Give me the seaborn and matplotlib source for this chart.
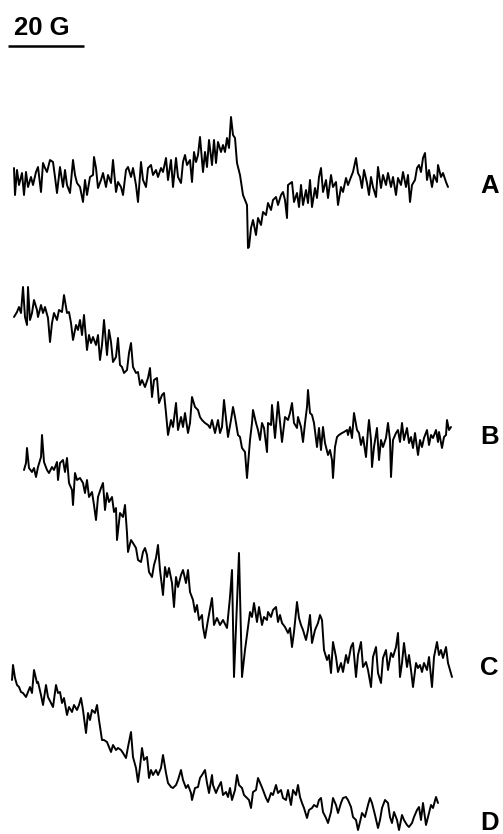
import matplotlib
matplotlib.use("Agg")
import matplotlib.pyplot as plt
import seaborn as sns
import numpy as np
import pandas as pd

sns.set_theme(style="white")
plt.rcParams['font.family'] = ['Liberation Sans', 'DejaVu Sans']
plt.rcParams['text.color'] = 'black'

# Traces: (field position, signal) pairs; signal is plotted downward-positive
trace_A = [(14,168),(15,195),(17,170),(19,185),(22,173),(24,195),(26,172),(28,187),(31,177),(33,185),
           (36,172),(38,167),(41,192),(43,163),(45,168),(47,172),(50,160),(53,162),(55,177),(57,193),
           (60,167),(63,187),(65,170),(67,185),(70,193),(73,160),(75,175),(77,183),(80,187),(83,202),
           (85,180),(87,195),(90,177),(93,175),(94,157),(96,168),(98,188),(101,180),(103,173),(106,187),
           (108,175),(111,183),(113,160),(116,192),(118,182),(121,187),(123,195),(126,170),(128,167),
           (131,177),(133,168),(136,185),(138,202),(141,162),(143,180),(146,187),(148,168),(151,165),
           (153,175),(156,170),(158,177),(161,168),(163,172),(166,158),(168,180),(171,160),(173,187),
           (176,158),(178,177),(181,183),(183,162),(185,155),(187,165),(190,160),(192,182),(194,152),
           (196,162),(198,155),(200,137),(203,172),(205,152),(207,167),(209,140),(212,165),(214,140),
           (216,163),(218,142),(221,152),(223,145),(225,152),(227,138),(229,148),(231,117),(233,135),
           (235,138),(237,163),(240,175),(243,195),(247,205),(248,248),(249,247),(251,228),(253,220),
           (256,235),(258,218),(261,225),(263,212),(266,215),(268,203),(271,210),(273,200),(276,197),
           (278,205),(281,195),(283,192),(285,200),(287,218),(288,185),(292,182),(294,202),(297,193),
           (299,207),(301,185),(303,205),(306,190),(308,203),(310,180),(312,207),(315,188),(317,198),
           (319,177),(321,168),(323,192),(326,180),(328,198),(331,175),(333,187),(336,182),(338,205),
           (341,187),(343,192),(346,178),(348,185),(351,177),(353,172),(356,158),(358,173),(360,177),
           (362,188),(364,170),(367,183),(369,195),(371,177),(373,187),(376,197),(378,167),(381,188),
           (383,175),(386,185),(388,173),(391,187),(393,177),(396,195),(398,178),(401,185),(403,172),
           (406,187),(408,175),(410,202),(412,185),(415,180),(417,168),(419,165),(421,172),(423,158),
           (425,153),(427,180),(429,170),(432,187),(434,175),(437,182),(438,165),(441,177),(443,173),
           (446,182),(448,187)]

trace_B = [(14,317),(17,312),(19,307),(21,313),(23,287),(25,317),(27,325),(28,287),(30,320),(32,313),
           (34,300),(37,310),(38,317),(41,305),(43,313),(45,307),(48,318),(50,342),(52,323),(54,313),
           (57,320),(59,310),(62,312),(64,295),(67,313),(69,312),(71,323),(73,340),(76,325),(78,330),
           (80,320),(82,335),(84,315),(87,350),(89,335),(91,343),(93,337),(96,345),(98,335),(100,360),
           (102,345),(104,320),(107,355),(109,330),(111,342),(113,362),(116,357),(118,338),(120,365),
           (122,367),(124,373),(127,370),(129,353),(131,343),(133,367),(136,373),(138,372),(140,385),
           (142,380),(145,387),(148,378),(150,368),(152,397),(154,380),(157,378),(159,403),(162,395),
           (164,393),(166,413),(168,435),(171,420),(173,427),(176,403),(178,430),(181,417),(183,427),
           (185,413),(188,433),(190,423),(192,397),(195,407),(198,410),(200,417),(202,420),(205,423),
           (208,425),(210,428),(212,420),(215,433),(218,420),(220,433),(222,427),(224,400),(227,427),
           (228,437),(231,420),(233,407),(235,417),(238,435),(240,437),(242,448),(245,452),(247,478),
           (250,440),(252,423),(253,410),(256,423),(258,430),(260,440),(262,423),(264,428),(267,452),
           (268,423),(271,425),(272,405),(275,438),(278,402),(280,422),(282,442),(285,417),(288,420),
           (290,413),(292,403),(294,423),(297,428),(298,417),(301,427),(303,442),(305,423),(307,407),
           (308,390),(310,413),(312,415),(314,423),(317,447),(319,428),(321,450),(323,427),(325,443),
           (328,455),(330,450),(332,460),(333,478),(335,447),(337,437),(339,435),(342,433),(344,432),
           (347,430),(348,435),(350,427),(352,438),(354,413),(357,430),(359,433),(361,445),(363,437),
           (366,457),(368,430),(369,420),(371,440),(372,467),(374,447),(377,428),(379,460),(381,440),
           (383,447),(386,438),(388,423),(390,440),(391,477),(393,440),(396,433),(398,430),(400,442),
           (402,423),(404,440),(407,428),(409,443),(411,437),(413,448),(415,433),(418,455),(420,440),
           (422,447),(424,438),(427,430),(429,445),(431,435),(433,438),(436,430),(438,442),(439,432),
           (442,448),(444,437),(446,435),(447,420),(449,430),(451,427)]

trace_C = [(24,470),(26,463),(27,448),(29,468),(32,472),(34,468),(36,477),(38,467),(41,457),(42,435),
           (44,462),(47,470),(49,473),(52,467),(54,470),(57,462),(58,480),(60,463),(63,460),(65,472),
           (67,458),(69,483),(72,490),(73,505),(75,473),(77,480),(80,478),(83,483),(85,493),(87,480),
           (89,497),(92,492),(94,505),(96,520),(98,497),(101,488),(103,483),(105,510),(107,493),(109,502),
           (112,497),(114,512),(116,508),(117,540),(120,513),(123,517),(125,505),(127,533),(128,552),
           (131,540),(133,543),(136,548),(138,560),(141,562),(143,552),(145,548),(147,555),(149,572),
           (152,577),(154,565),(156,558),(158,545),(160,570),(163,595),(165,567),(167,577),(169,568),
           (172,583),(174,607),(176,577),(178,587),(181,575),(183,570),(186,583),(188,570),(190,592),
           (193,600),(195,612),(197,605),(199,620),(202,615),(203,627),(205,638),(208,620),(212,598),
           (214,625),(217,618),(220,625),(223,620),(227,628),(230,597),(232,570),(234,677),(239,553),
           (242,677),(245,650),(248,627),(250,612),(252,617),(254,603),(257,622),(259,607),(262,625),
           (264,617),(267,620),(268,612),(271,617),(273,610),(276,607),(278,622),(280,615),(282,623),
           (285,627),(288,633),(290,628),(292,647),(294,632),(297,602),(299,618),(301,625),(303,630),
           (306,640),(308,630),(310,615),(312,643),(315,630),(318,623),(320,615),(322,620),(324,650),
           (327,660),(329,655),(331,673),(333,642),(336,657),(338,672),(341,663),(343,672),(346,655),
           (348,663),(351,647),(353,643),(356,677),(358,655),(361,642),(363,667),(366,662),(368,670),
           (371,687),(373,657),(376,647),(378,673),(381,683),(383,658),(386,650),(388,670),(391,653),
           (393,657),(396,647),(398,633),(400,677),(402,663),(404,643),(407,667),(409,655),(411,670),
           (413,687),(416,663),(418,668),(420,665),(422,672),(424,663),(427,670),(429,657),(432,687),
           (434,657),(437,642),(439,655),(441,650),(443,658),(446,647),(448,663),(450,670),(452,677)]

trace_D = [(12,680),(13,665),(15,678),(17,685),(19,687),(21,692),(23,693),(26,697),(28,692),(30,687),
           (32,693),(34,670),(37,683),(38,682),(41,695),(43,705),(46,685),(48,697),(51,703),(53,707),
           (56,685),(58,693),(60,692),(62,703),(64,698),(67,715),(69,707),(72,712),(74,705),(77,710),
           (79,705),(81,698),(83,710),(86,733),(88,713),(90,720),(92,710),(95,713),(97,705),(99,720),
           (102,740),(104,740),(107,742),(109,747),(111,752),(113,745),(116,750),(118,748),(121,750),
           (123,753),(126,758),(128,747),(131,732),(133,757),(136,768),(138,782),(140,767),(142,748),
           (144,760),(147,757),(149,778),(151,770),(153,775),(156,770),(158,775),(161,768),(163,755),
           (166,773),(168,783),(171,787),(173,788),(176,785),(178,780),(181,770),(183,780),(186,788),
           (188,785),(191,793),(192,800),(195,788),(198,787),(200,778),(202,775),(205,770),(207,783),
           (209,793),(212,775),(213,785),(216,793),(218,788),(221,782),(223,795),(226,792),(228,797),
           (230,788),(232,800),(235,790),(237,775),(239,785),(242,788),(244,795),(247,798),(249,800),
           (251,808),(253,792),(256,790),(258,778),(261,785),(263,790),(266,798),(268,802),(271,793),
           (273,795),(276,785),(278,793),(281,790),(283,798),(286,800),(288,790),(291,805),(293,790),
           (296,795),(298,785),(300,797),(302,803),(304,808),(307,818),(309,810),(312,808),(314,805),
           (317,807),(319,800),(321,798),(323,812),(326,818),(328,823),(331,812),(333,798),(336,805),
           (338,813),(341,803),(343,798),(346,797),(348,800),(351,807),(353,817),(356,820),(358,830),
           (360,822),(362,813),(365,817),(368,805),(370,798),(372,803),(375,815),(378,828),(380,820),
           (382,808),(385,800),(388,803),(390,817),(392,823),(394,812),(397,820),(399,830),(402,815),
           (404,820),(407,825),(409,827),(412,823),(414,817),(417,810),(419,807),(421,820),(423,803),
           (426,825),(428,817),(431,805),(433,808),(436,797),(438,803)]

trace_labels = ["A", "B", "C", "D"]
scale_label = "20 G"

fig = plt.figure(figsize=(5.03, 8.34), dpi=100)
ax = fig.add_axes([0, 0, 1, 1])

for name, tr in zip(trace_labels, [trace_A, trace_B, trace_C, trace_D]):
    df = pd.DataFrame(tr, columns=["field", "signal"])
    sns.lineplot(data=df, x="field", y="signal", ax=ax, color="black",
                 linewidth=1.4, estimator=None, sort=False)

ax.set_xlim(0, 503)
ax.set_ylim(834, 0)
ax.axis("off")

label_y = {"A": 186, "B": 437, "C": 668, "D": 823}
for name in trace_labels:
    ax.text(480, label_y[name], name, fontsize=18.5, fontweight="bold",
            va="center", ha="left", color="black")

ax.plot([8, 84], [46, 46], color="black", linewidth=1.8, solid_capstyle="butt")
ax.text(14, 35, scale_label, fontsize=18.5, fontweight="bold", va="baseline", ha="left",
        color="black")

fig.savefig("out.png", dpi=100)
